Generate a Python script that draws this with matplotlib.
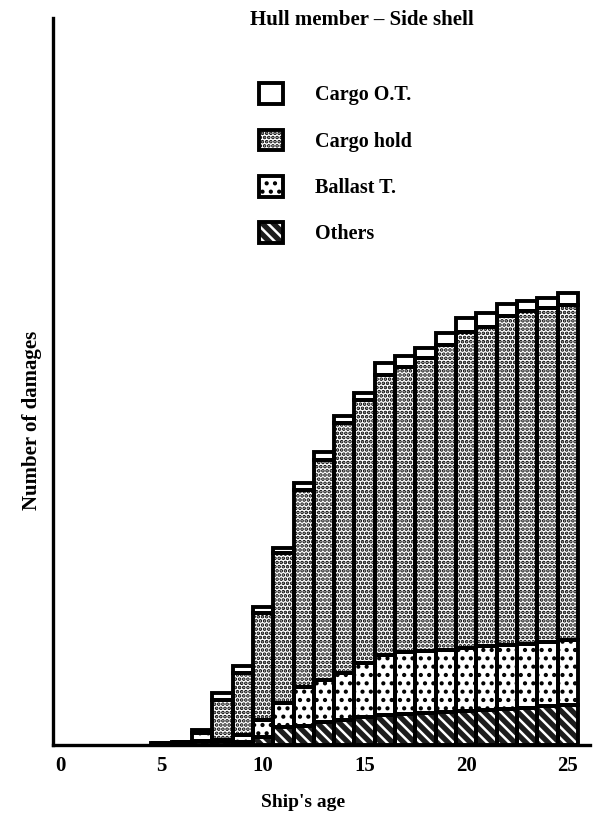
import matplotlib
matplotlib.use("Agg")
import matplotlib.pyplot as plt
from matplotlib.patches import Patch
from matplotlib.legend_handler import HandlerTuple

plt.rcParams["font.family"] = ["Liberation Serif", "DejaVu Serif"]
plt.rcParams["font.weight"] = "bold"
plt.rcParams["hatch.linewidth"] = 1.8

# ages and damage counts per hull location
ages = [5, 6, 7, 8, 9, 10, 11, 12, 13, 14, 15, 16, 17, 18, 19, 20, 21, 22, 23, 24, 25]
others = [2, 3, 4, 4, 3, 8, 18, 19, 23, 25, 28, 30, 31, 32, 33, 34, 35, 36, 37, 39, 40]
ballast = [0, 0, 8, 1, 7, 17, 24, 39, 42, 47, 54, 60, 62, 62, 62, 63, 64, 64, 64, 64, 65]
cargo_hold = [0, 0, 0, 40, 62, 107, 150, 197, 220, 250, 263, 280, 285, 293, 305, 316, 319, 329, 333, 334, 335]
cargo_ot = [0, 0, 3, 7, 7, 6, 5, 7, 8, 7, 7, 12, 11, 10, 12, 14, 14, 12, 10, 10, 12]

xticks = [0, 5, 10, 15, 20, 25]

# (label, values, face, hatch, hatch colour)
series = [
    ("Others", others, "#1c1c1c", "\\\\\\", "white"),
    ("Ballast T.", ballast, "white", "..", "black"),
    ("Cargo hold", cargo_hold, "white", "....", "black"),
    ("Cargo O.T.", cargo_ot, "white", None, "white"),
]

fig = plt.figure(figsize=(5.94, 8.18), dpi=100)
ax = fig.add_axes([53 / 594, 73 / 818, 537 / 594, 727 / 818])

bottom = [0] * len(ages)
handles = {}
for label, vals, face, hatch, hcol in series:
    ax.bar(ages, vals, width=1.0, bottom=bottom, color=face,
           hatch=hatch, edgecolor=hcol, linewidth=0, zorder=2)
    ax.bar(ages, vals, width=1.0, bottom=bottom, fill=False,
           edgecolor="black", linewidth=2.8, zorder=3)
    handles[label] = (Patch(facecolor=face, hatch=hatch, edgecolor=hcol, linewidth=0),
                      Patch(fill=False, edgecolor="black", linewidth=2.8))
    bottom = [b + v for b, v in zip(bottom, vals)]

ax.set_xlim(-0.35, 26.1)
ax.set_ylim(0, 727)
ax.set_xticks(xticks)
ax.tick_params(axis="x", length=0, pad=8, labelsize=15)
ax.set_yticks([])
for side in ["top", "right"]:
    ax.spines[side].set_visible(False)
for side in ["left", "bottom"]:
    ax.spines[side].set_linewidth(2.4)

ax.set_xlabel("Ship's age", fontsize=14, fontweight="bold")
ax.xaxis.set_label_coords(0.466, -0.067)
ax.set_ylabel("Number of damages", fontsize=15, fontweight="bold")
ax.yaxis.set_label_coords(-0.02, 0.447)
fig.text(0.61, 0.976, "Hull member \u2013 Side shell", ha="center", va="center",
         fontsize=15, fontweight="bold")

order = ["Cargo O.T.", "Cargo hold", "Ballast T.", "Others"]
ax.legend([handles[k] for k in order], order,
          handler_map={tuple: HandlerTuple(ndivide=1)},
          loc="upper left", bbox_to_anchor=(0.35, 0.935),
          frameon=False, fontsize=14.5, handlelength=1.2, handleheight=1.2,
          handletextpad=1.6, labelspacing=1.2)

fig.savefig("out.png", dpi=100)
